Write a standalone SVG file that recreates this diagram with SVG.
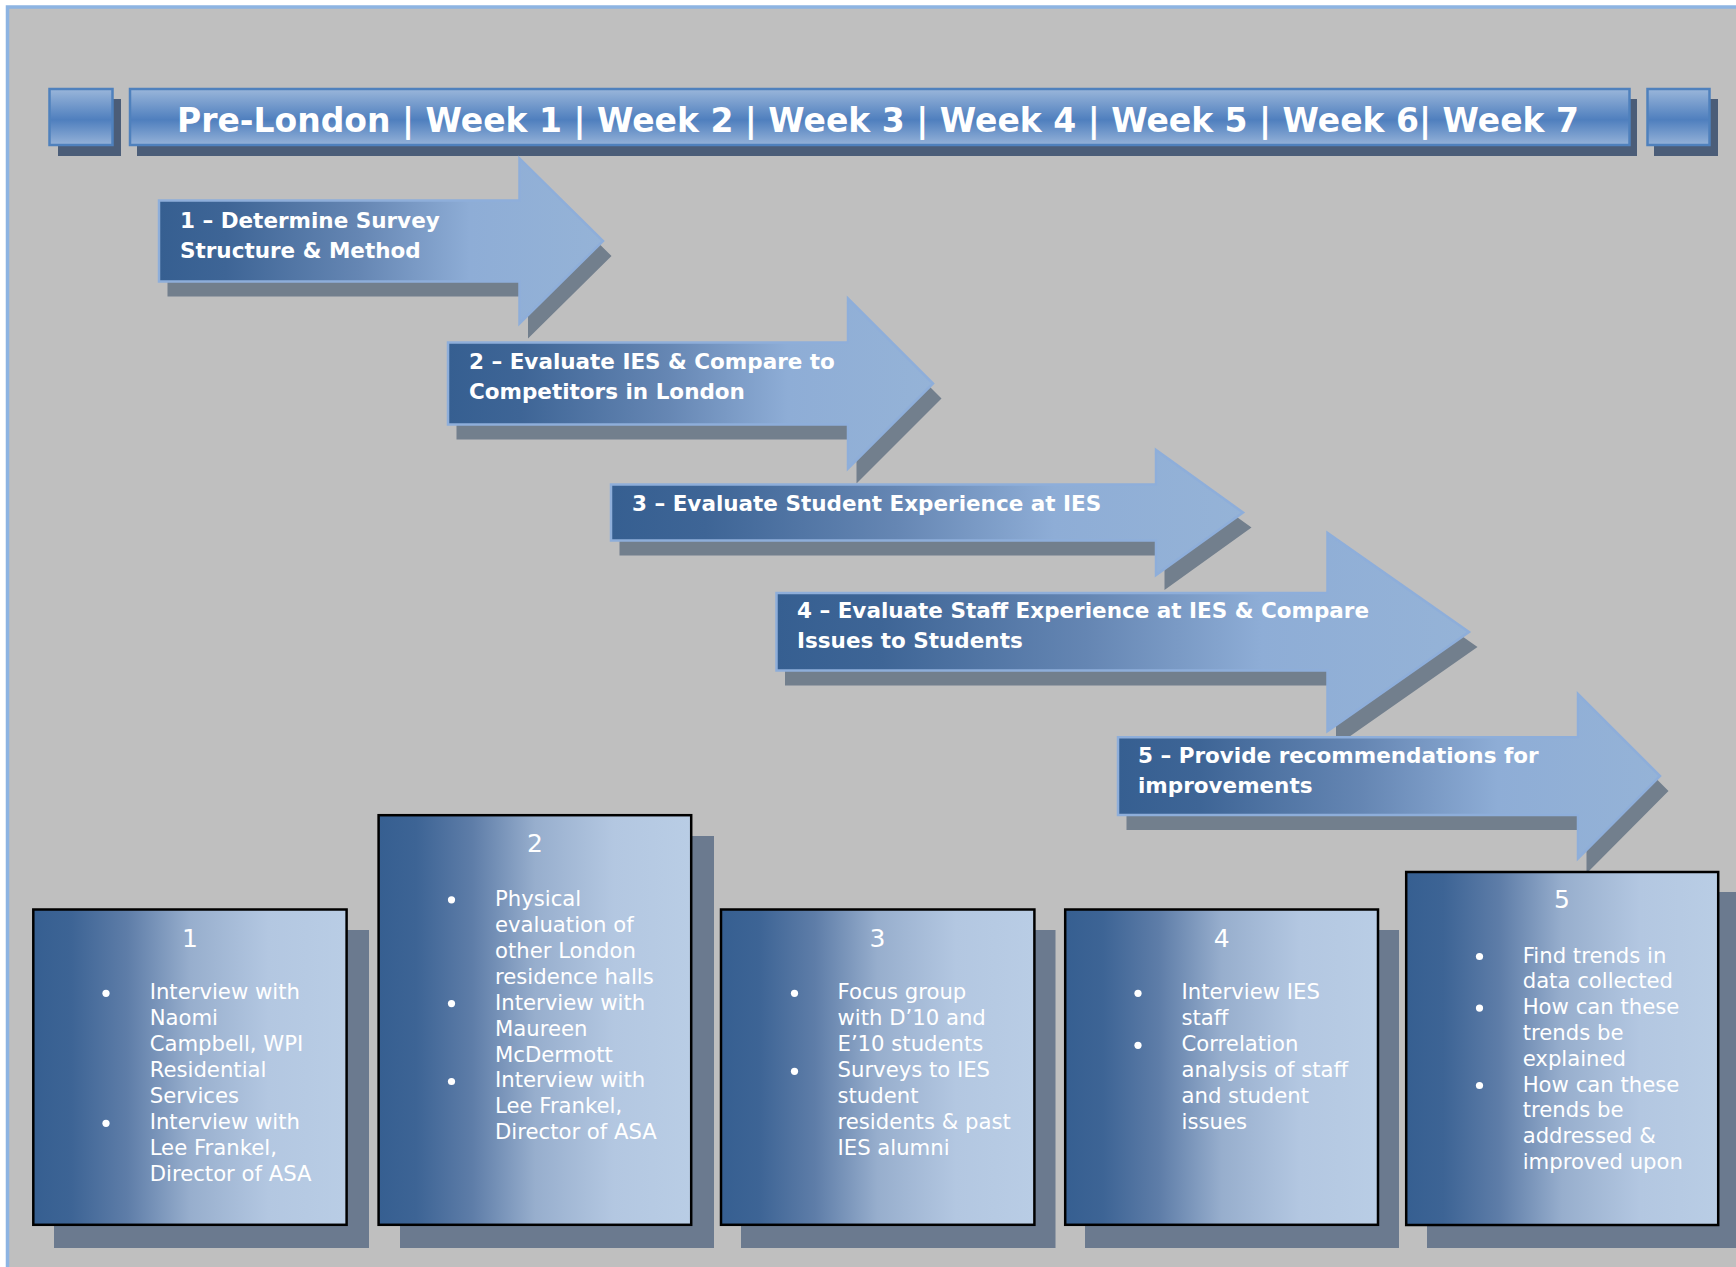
<svg xmlns="http://www.w3.org/2000/svg" width="1736" height="1267" viewBox="0 0 1736 1267">
<defs>
<linearGradient id="barGrad" x1="0" y1="0" x2="0" y2="1">
<stop offset="0" stop-color="#9AB6DA"/>
<stop offset="0.55" stop-color="#4F7FBE"/>
<stop offset="1" stop-color="#95B2D8"/>
</linearGradient>
<linearGradient id="arrowGrad" x1="0" y1="0" x2="1" y2="0">
<stop offset="0" stop-color="#365F91"/>
<stop offset="0.15" stop-color="#3E6596"/>
<stop offset="0.45" stop-color="#6586B3"/>
<stop offset="0.7" stop-color="#8EADD6"/>
<stop offset="1" stop-color="#95B3D7"/>
</linearGradient>
<linearGradient id="boxGrad" x1="0" y1="0" x2="1" y2="0">
<stop offset="0" stop-color="#365F91"/>
<stop offset="0.12" stop-color="#3D6495"/>
<stop offset="0.3" stop-color="#5E7DA8"/>
<stop offset="0.5" stop-color="#97AECD"/>
<stop offset="0.75" stop-color="#B3C7E1"/>
<stop offset="1" stop-color="#B9CDE5"/>
</linearGradient>
<style>
.frame{fill:#BFBFBF;stroke:#8DB4E2;stroke-width:3.5}
.bar{fill:url(#barGrad);stroke:#4F81BD;stroke-width:2.5}
.barShadow{fill:#4B5D78}
.arrow{fill:url(#arrowGrad);stroke:#8EAEDA;stroke-width:2.5}
.arrowShadow{fill:#727F8D}
.box{fill:url(#boxGrad);stroke:#000;stroke-width:2.5}
.boxShadow{fill:#6B7A8F}
.hdr{font-family:"DejaVu Sans",Verdana,sans-serif;font-weight:bold;font-size:33px;fill:#fff}
.at{font-family:"DejaVu Sans",Verdana,sans-serif;font-weight:bold;font-size:21.5px;fill:#fff}
.bt{font-family:"DejaVu Sans",Verdana,sans-serif;font-size:21.2px;fill:#fff}
.bn{font-family:"DejaVu Sans",Verdana,sans-serif;font-size:25px;fill:#fff;text-anchor:middle}
.bul{fill:#fff}
</style>
</defs>
<rect x="0" y="0" width="1736" height="1267" fill="#FFFFFF"/>
<rect class="frame" x="7.5" y="7" width="1760" height="1300"/>

<g id="header">
<rect class="barShadow" x="58" y="99" width="63" height="57"/>
<rect class="bar" x="49.5" y="89" width="63" height="56"/>
<rect class="barShadow" x="137" y="99" width="1500" height="57"/>
<rect class="bar" x="130" y="89" width="1499.5" height="56"/>
<rect class="barShadow" x="1654" y="99" width="64" height="57"/>
<rect class="bar" x="1647.5" y="89" width="62" height="56"/>
<text class="hdr" x="177" y="132">Pre-London | Week 1 | Week 2 | Week 3 | Week 4 | Week 5 | Week 6| Week 7</text>
</g>

<g id="connectors"></g>

<g id="step1">
<polygon class="arrowShadow" transform="translate(8.5,15)" points="159,200.5 519.5,200.5 519.5,158.5 603,241 519.5,323.5 519.5,281.5 159,281.5"/>
<polygon class="arrow" points="159,200.5 519.5,200.5 519.5,158.5 603,241 519.5,323.5 519.5,281.5 159,281.5"/>
<text class="at" x="180" y="228">1 – Determine Survey</text>
<text class="at" x="180" y="257.5">Structure &amp; Method</text>
</g>

<g id="step2">
<polygon class="arrowShadow" transform="translate(8.5,15)" points="448,342.5 848,342.5 848,298.5 933,383.5 848,468.5 848,424.5 448,424.5"/>
<polygon class="arrow" points="448,342.5 848,342.5 848,298.5 933,383.5 848,468.5 848,424.5 448,424.5"/>
<text class="at" x="469" y="369.3">2 – Evaluate IES &amp; Compare to</text>
<text class="at" x="469" y="399">Competitors in London</text>
</g>

<g id="step3">
<polygon class="arrowShadow" transform="translate(8.5,15)" points="611,484.5 1156,484.5 1156,450 1243,512.5 1156,575 1156,540.5 611,540.5"/>
<polygon class="arrow" points="611,484.5 1156,484.5 1156,450 1243,512.5 1156,575 1156,540.5 611,540.5"/>
<text class="at" x="632" y="510.7">3 – Evaluate Student Experience at IES</text>
</g>

<g id="step4">
<polygon class="arrowShadow" transform="translate(8.5,15)" points="776.5,593 1327.5,593 1327.5,533 1469,632 1327.5,731 1327.5,670.5 776.5,670.5"/>
<polygon class="arrow" points="776.5,593 1327.5,593 1327.5,533 1469,632 1327.5,731 1327.5,670.5 776.5,670.5"/>
<text class="at" x="797" y="618.3">4 – Evaluate Staff Experience at IES &amp; Compare</text>
<text class="at" x="797" y="648.3">Issues to Students</text>
</g>

<g id="step5">
<polygon class="arrowShadow" transform="translate(8.5,15)" points="1118,737.3 1578,737.3 1578,694 1660,776 1578,858.5 1578,815 1118,815"/>
<polygon class="arrow" points="1118,737.3 1578,737.3 1578,694 1660,776 1578,858.5 1578,815 1118,815"/>
<text class="at" x="1138" y="763.3">5 – Provide recommendations for</text>
<text class="at" x="1138" y="793.3">improvements</text>
</g>

<g id="box1">
<rect class="boxShadow" x="54" y="930" width="315" height="318"/>
<rect class="box" x="33.3" y="909.5" width="313.3" height="315.3"/>
<text class="bn" x="190" y="946.7">1</text>
<circle class="bul" cx="106" cy="993.3" r="3.6"/>
<circle class="bul" cx="106" cy="1123.3" r="3.6"/>
<text class="bt" x="149.7" y="999.3"><tspan x="149.7">Interview with</tspan><tspan x="149.7" dy="26">Naomi</tspan><tspan x="149.7" dy="26">Campbell, WPI</tspan><tspan x="149.7" dy="26">Residential</tspan><tspan x="149.7" dy="26">Services</tspan><tspan x="149.7" dy="26">Interview with</tspan><tspan x="149.7" dy="26">Lee Frankel,</tspan><tspan x="149.7" dy="26">Director of ASA</tspan></text>
</g>

<g id="box2">
<rect class="boxShadow" x="400" y="836" width="314" height="412"/>
<rect class="box" x="378.6" y="815.2" width="312.6" height="409.6"/>
<text class="bn" x="535" y="851.7">2</text>
<circle class="bul" cx="451.5" cy="899.8" r="3.6"/>
<circle class="bul" cx="451.5" cy="1003.6" r="3.6"/>
<circle class="bul" cx="451.5" cy="1081.5" r="3.6"/>
<text class="bt" x="495" y="905.8"><tspan x="495">Physical</tspan><tspan x="495" dy="25.95">evaluation of</tspan><tspan x="495" dy="25.95">other London</tspan><tspan x="495" dy="25.95">residence halls</tspan><tspan x="495" dy="25.95">Interview with</tspan><tspan x="495" dy="25.95">Maureen</tspan><tspan x="495" dy="25.95">McDermott</tspan><tspan x="495" dy="25.95">Interview with</tspan><tspan x="495" dy="25.95">Lee Frankel,</tspan><tspan x="495" dy="25.95">Director of ASA</tspan></text>
</g>

<g id="box3">
<rect class="boxShadow" x="741" y="930" width="314.5" height="318"/>
<rect class="box" x="721" y="909.5" width="313.4" height="315.3"/>
<text class="bn" x="877.5" y="946.7">3</text>
<circle class="bul" cx="794.5" cy="993.3" r="3.6"/>
<circle class="bul" cx="794.5" cy="1071.3" r="3.6"/>
<text class="bt" x="837.5" y="999.3"><tspan x="837.5">Focus group</tspan><tspan x="837.5" dy="26">with D’10 and</tspan><tspan x="837.5" dy="26">E’10 students</tspan><tspan x="837.5" dy="26">Surveys to IES</tspan><tspan x="837.5" dy="26">student</tspan><tspan x="837.5" dy="26">residents &amp; past</tspan><tspan x="837.5" dy="26">IES alumni</tspan></text>
</g>

<g id="box4">
<rect class="boxShadow" x="1085" y="930" width="314" height="318"/>
<rect class="box" x="1065.2" y="909.5" width="312.8" height="315.3"/>
<text class="bn" x="1221.6" y="946.7">4</text>
<circle class="bul" cx="1138" cy="993.3" r="3.6"/>
<circle class="bul" cx="1138" cy="1045.3" r="3.6"/>
<text class="bt" x="1181.5" y="999.3"><tspan x="1181.5">Interview IES</tspan><tspan x="1181.5" dy="26">staff</tspan><tspan x="1181.5" dy="26">Correlation</tspan><tspan x="1181.5" dy="26">analysis of staff</tspan><tspan x="1181.5" dy="26">and student</tspan><tspan x="1181.5" dy="26">issues</tspan></text>
</g>

<g id="box5">
<rect class="boxShadow" x="1427" y="892" width="320" height="356"/>
<rect class="box" x="1406.2" y="872" width="312" height="353"/>
<text class="bn" x="1562" y="908.3">5</text>
<circle class="bul" cx="1479.5" cy="956.5" r="3.6"/>
<circle class="bul" cx="1479.5" cy="1008.1" r="3.6"/>
<circle class="bul" cx="1479.5" cy="1085.5" r="3.6"/>
<text class="bt" x="1522.7" y="962.5"><tspan x="1522.7">Find trends in</tspan><tspan x="1522.7" dy="25.8">data collected</tspan><tspan x="1522.7" dy="25.8">How can these</tspan><tspan x="1522.7" dy="25.8">trends be</tspan><tspan x="1522.7" dy="25.8">explained</tspan><tspan x="1522.7" dy="25.8">How can these</tspan><tspan x="1522.7" dy="25.8">trends be</tspan><tspan x="1522.7" dy="25.8">addressed &amp;</tspan><tspan x="1522.7" dy="25.8">improved upon</tspan></text>
</g>
</svg>
